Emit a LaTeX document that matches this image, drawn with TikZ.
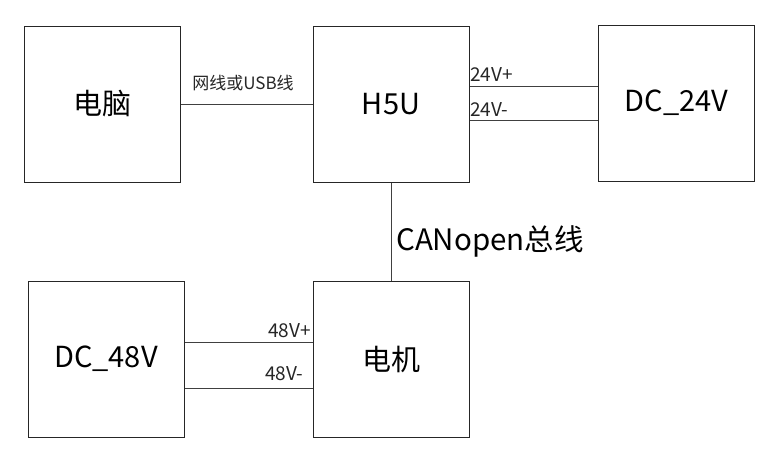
\documentclass[tikz,border=0pt]{standalone}
\usepackage{fontspec}
\setmainfont{Noto Sans CJK SC}
\begin{document}
\begin{tikzpicture}[x=1pt,y=-1pt,
  box/.style={draw=black!85,line width=1pt,minimum width=156pt,minimum height=156pt,inner sep=0pt,font=\fontsize{29}{31}\selectfont},
  wire/.style={draw=black!75,line width=1pt},
  lbl/.style={inner sep=0pt,font=\fontsize{17}{19}\selectfont,text=black!85},
  vlbl/.style={inner sep=0pt,font=\fontsize{19}{21}\selectfont,text=black!85},
  biglbl/.style={inner sep=0pt,font=\fontsize{29.5}{31}\selectfont}]
\useasboundingbox[fill=white] (0,0) rectangle (778,461);
\node[box] (pc) at (102,104) {电脑};
\node[box] (h5u) at (391,104.5) {H5U};
\node[box] (dc24) at (676.5,103) {DC\_24V};
\node[box] (dc48) at (106,359) {DC\_48V};
\node[box] (motor) at (391,359) {电机};
\draw[wire] (pc.east) -- (pc.east -| h5u.west);
\draw[wire] ([yshift=18.5pt]h5u.east) -- ([yshift=18.5pt]h5u.east -| dc24.west);
\draw[wire] ([yshift=-15.5pt]h5u.east) -- ([yshift=-15.5pt]h5u.east -| dc24.west);
\draw[wire] (h5u.south) -- (motor.north);
\draw[wire] ([yshift=17pt]dc48.east) -- ([yshift=17pt]dc48.east -| motor.west);
\draw[wire] ([yshift=-29pt]dc48.east) -- ([yshift=-29pt]dc48.east -| motor.west);
\node[lbl] (l1) at (243,83) {网线或USB线};
\node[vlbl,anchor=west] (l2) at (470,75) {24V+};
\node[vlbl,anchor=west] (l3) at (470,110) {24V-};
\node[vlbl,anchor=east] (l4) at (311,331) {48V+};
\node[vlbl,anchor=west] (l5) at (265,374) {48V-};
\node[biglbl,anchor=west] (l6) at (396,241) {CANopen总线};
\end{tikzpicture}
\end{document}
